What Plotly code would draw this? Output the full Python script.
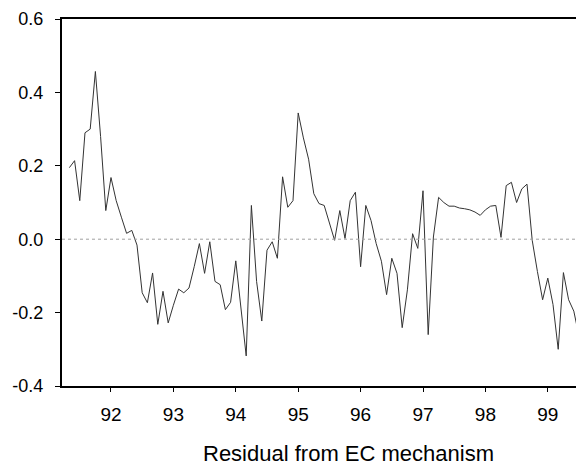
import plotly.graph_objects as go

# Monthly residuals, 1991:05 - 1999:07
start_year = 1991
start_month = 5
residual = [
    0.195, 0.214, 0.105, 0.290, 0.300, 0.457, 0.280, 0.078, 0.168, 0.105,   # 91:05-92:02
    0.060, 0.016, 0.024, -0.016, -0.146, -0.173, -0.092, -0.232, -0.142, -0.228,  # 92:03-92:12
    -0.180, -0.136, -0.146, -0.133, -0.075, -0.012, -0.093, -0.007, -0.115, -0.124,  # 93:01-93:10
    -0.192, -0.172, -0.059, -0.183, -0.318, 0.092, -0.115, -0.223, -0.030, -0.007,  # 93:11-94:08
    -0.052, 0.170, 0.087, 0.105, 0.344, 0.276, 0.218, 0.124, 0.097, 0.092,  # 94:09-95:06
    0.047, -0.003, 0.078, 0.002, 0.105, 0.128, -0.075, 0.092, 0.051, -0.012,  # 95:07-96:04
    -0.060, -0.151, -0.052, -0.093, -0.241, -0.138, 0.015, -0.025, 0.132, -0.260,  # 96:05-97:02
    0.006, 0.114, 0.100, 0.090, 0.090, 0.085, 0.083, 0.080, 0.074, 0.065,  # 97:03-97:12
    0.080, 0.090, 0.092, 0.005, 0.146, 0.155, 0.100, 0.137, 0.150, -0.003,  # 98:01-98:10
    -0.088, -0.165, -0.106, -0.178, -0.300, -0.091, -0.165, -0.196, -0.264,  # 98:11-99:07
]
x_tick_years = [1992, 1993, 1994, 1995, 1996, 1997, 1998, 1999]
x_tick_labels = ["92", "93", "94", "95", "96", "97", "98", "99"]
y_tick_vals = [-0.4, -0.2, 0.0, 0.2, 0.4, 0.6]
y_tick_labels = ["-0.4", "-0.2", "0.0", "0.2", "0.4", "0.6"]
title_text = "Residual from EC mechanism"

x = [start_year + (start_month - 1 + k) / 12.0 for k in range(len(residual))]

fig = go.Figure()
fig.add_trace(go.Scatter(x=x, y=residual, mode="lines",
                         line=dict(color="#333333", width=1), showlegend=False,
                         hoverinfo="skip"))
fig.add_hline(y=0, line=dict(color="#a0a0a0", width=1, dash="dot"))

font_family = "Liberation Sans, Arial, sans-serif"
fig.update_layout(
    width=584, height=469,
    margin=dict(l=54, r=8, t=11, b=91, autoexpand=False),
    paper_bgcolor="white", plot_bgcolor="white",
    font=dict(family=font_family, size=19, color="black"),
    xaxis=dict(range=[1991.215, 1999.58], tickvals=x_tick_years, ticktext=x_tick_labels,
               showgrid=False, zeroline=False, showline=True, linecolor="black",
               linewidth=2, mirror=True, ticks="outside", ticklen=4,
               tickcolor="black", tickfont=dict(size=19), ticklabelstandoff=6,
               automargin=False, ticklabeloverflow="allow"),
    yaxis=dict(range=[-0.4, 0.6], tickvals=y_tick_vals, ticktext=y_tick_labels,
               showgrid=False, zeroline=False, showline=True, linecolor="black",
               linewidth=2, ticks="outside", ticklen=5, tickcolor="black",
               tickfont=dict(size=18), ticklabelstandoff=8,
               automargin=False, ticklabeloverflow="allow"),
    annotations=[dict(text=title_text, xref="paper", yref="paper", x=0.548, y=-0.1826,
                      xanchor="center", yanchor="middle", showarrow=False,
                      font=dict(size=22, family=font_family))],
)
fig.write_html("out.html")
